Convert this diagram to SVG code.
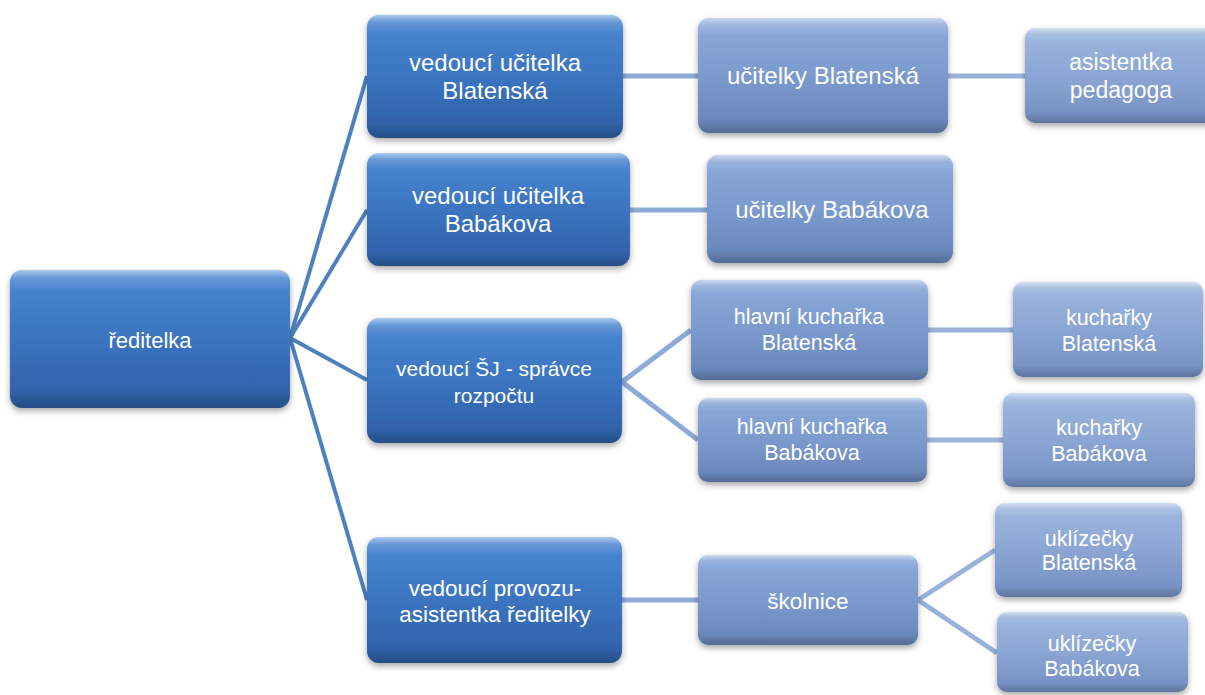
<svg xmlns="http://www.w3.org/2000/svg" width="1205" height="695" viewBox="0 0 1205 695">
<style>
.t{font-family:"Liberation Sans",Arial,sans-serif;fill:#ffffff;text-anchor:middle}
.c0{stroke:#4f81bd;stroke-width:4;fill:none;stroke-linecap:butt}
.c1{stroke:#8eaad6;stroke-width:5;fill:none}
.c2{stroke:#9ab2da;stroke-width:5;fill:none}
.dark{fill:url(#gDark);filter:url(#sh)}
.mid{fill:url(#gMid);filter:url(#sh)}
.light{fill:url(#gLight);filter:url(#sh)}
.gl{fill:url(#gloss)}
</style>
<defs>
<linearGradient id="gDark" x1="0" y1="0" x2="0" y2="1">
<stop offset="0" stop-color="#4c88d2"/>
<stop offset="0.5" stop-color="#3b74c0"/>
<stop offset="1" stop-color="#2d5ea3"/>
</linearGradient>
<linearGradient id="gMid" x1="0" y1="0" x2="0" y2="1">
<stop offset="0" stop-color="#8dabdb"/>
<stop offset="0.5" stop-color="#7b9acd"/>
<stop offset="1" stop-color="#6683b6"/>
</linearGradient>
<linearGradient id="gLight" x1="0" y1="0" x2="0" y2="1">
<stop offset="0" stop-color="#a0b8e0"/>
<stop offset="0.5" stop-color="#8ba6d4"/>
<stop offset="1" stop-color="#728ec1"/>
</linearGradient>
<linearGradient id="gloss" x1="0" y1="0" x2="0" y2="1">
<stop offset="0" stop-color="#ffffff" stop-opacity="0.55"/>
<stop offset="0.06" stop-color="#ffffff" stop-opacity="0.15"/>
<stop offset="0.15" stop-color="#ffffff" stop-opacity="0"/>
<stop offset="0.88" stop-color="#000000" stop-opacity="0"/>
<stop offset="1" stop-color="#000000" stop-opacity="0.18"/>
</linearGradient>
<filter id="sh" x="-10%" y="-10%" width="120%" height="130%">
<feDropShadow dx="0" dy="3" stdDeviation="3" flood-color="#000000" flood-opacity="0.35"/>
</filter>
</defs>

<g id="connectors">
<line class="c0" x1="290" y1="338" x2="367" y2="76"/>
<line class="c0" x1="290" y1="338" x2="367" y2="210"/>
<line class="c0" x1="290" y1="338" x2="367" y2="380"/>
<line class="c0" x1="290" y1="338" x2="367" y2="600"/>
<line class="c1" x1="623" y1="76" x2="698" y2="76"/>
<line class="c1" x1="630" y1="210" x2="707" y2="210"/>
<line class="c1" x1="622" y1="382" x2="691" y2="330"/>
<line class="c1" x1="622" y1="382" x2="698" y2="440"/>
<line class="c1" x1="622" y1="600" x2="698" y2="600"/>
<line class="c2" x1="948" y1="76" x2="1025" y2="76"/>
<line class="c2" x1="928" y1="330" x2="1013" y2="330"/>
<line class="c2" x1="927" y1="440" x2="1003" y2="440"/>
<line class="c2" x1="918" y1="600" x2="995" y2="550"/>
<line class="c2" x1="918" y1="600" x2="997" y2="653"/>
</g>

<g id="n-reditelka">
<rect class="dark" x="10" y="270" width="280" height="138" rx="12"/>
<rect class="gl" x="10" y="270" width="280" height="138" rx="12"/>
<text class="t" x="150" y="348" font-size="22">ředitelka</text>
</g>

<g id="n-vedouci-ucitelka-blatenska">
<rect class="dark" x="367" y="15" width="256" height="123" rx="12"/>
<rect class="gl" x="367" y="15" width="256" height="123" rx="12"/>
<text class="t" font-size="24"><tspan x="495" y="71">vedoucí učitelka</tspan><tspan x="495" y="99">Blatenská</tspan></text>
</g>

<g id="n-vedouci-ucitelka-babakova">
<rect class="dark" x="367" y="153" width="263" height="113" rx="12"/>
<rect class="gl" x="367" y="153" width="263" height="113" rx="12"/>
<text class="t" font-size="24"><tspan x="498" y="204">vedoucí učitelka</tspan><tspan x="498" y="232">Babákova</tspan></text>
</g>

<g id="n-vedouci-sj">
<rect class="dark" x="367" y="318" width="255" height="125" rx="12"/>
<rect class="gl" x="367" y="318" width="255" height="125" rx="12"/>
<text class="t" font-size="21"><tspan x="494" y="376">vedoucí ŠJ - správce</tspan><tspan x="494" y="403">rozpočtu</tspan></text>
</g>

<g id="n-vedouci-provozu">
<rect class="dark" x="367" y="537" width="255" height="126" rx="12"/>
<rect class="gl" x="367" y="537" width="255" height="126" rx="12"/>
<text class="t" font-size="22.5"><tspan x="495" y="596">vedoucí provozu-</tspan><tspan x="495" y="622">asistentka ředitelky</tspan></text>
</g>

<g id="n-ucitelky-blatenska">
<rect class="mid" x="698" y="18" width="250" height="115" rx="11"/>
<rect class="gl" x="698" y="18" width="250" height="115" rx="11"/>
<text class="t" x="823" y="84" font-size="24">učitelky Blatenská</text>
</g>

<g id="n-ucitelky-babakova">
<rect class="mid" x="707" y="155" width="246" height="108" rx="11"/>
<rect class="gl" x="707" y="155" width="246" height="108" rx="11"/>
<text class="t" x="832" y="218" font-size="24">učitelky Babákova</text>
</g>

<g id="n-hlavni-kucharka-blatenska">
<rect class="mid" x="691" y="280" width="237" height="100" rx="10"/>
<rect class="gl" x="691" y="280" width="237" height="100" rx="10"/>
<text class="t" font-size="21.5"><tspan x="809" y="324">hlavní kuchařka</tspan><tspan x="809" y="350">Blatenská</tspan></text>
</g>

<g id="n-hlavni-kucharka-babakova">
<rect class="mid" x="698" y="398" width="229" height="84" rx="10"/>
<rect class="gl" x="698" y="398" width="229" height="84" rx="10"/>
<text class="t" font-size="21.5"><tspan x="812" y="434">hlavní kuchařka</tspan><tspan x="812" y="460">Babákova</tspan></text>
</g>

<g id="n-skolnice">
<rect class="mid" x="698" y="555" width="220" height="90" rx="10"/>
<rect class="gl" x="698" y="555" width="220" height="90" rx="10"/>
<text class="t" x="808" y="609" font-size="22.5">školnice</text>
</g>

<g id="n-asistentka-pedagoga">
<rect class="light" x="1025" y="28" width="200" height="95" rx="10"/>
<rect class="gl" x="1025" y="28" width="200" height="95" rx="10"/>
<text class="t" font-size="23"><tspan x="1121" y="70">asistentka</tspan><tspan x="1121" y="98">pedagoga</tspan></text>
</g>

<g id="n-kucharky-blatenska">
<rect class="light" x="1013" y="282" width="190" height="95" rx="10"/>
<rect class="gl" x="1013" y="282" width="190" height="95" rx="10"/>
<text class="t" font-size="21.5"><tspan x="1109" y="325">kuchařky</tspan><tspan x="1109" y="351">Blatenská</tspan></text>
</g>

<g id="n-kucharky-babakova">
<rect class="light" x="1003" y="393" width="192" height="94" rx="10"/>
<rect class="gl" x="1003" y="393" width="192" height="94" rx="10"/>
<text class="t" font-size="21.5"><tspan x="1099" y="435">kuchařky</tspan><tspan x="1099" y="461">Babákova</tspan></text>
</g>

<g id="n-uklizecky-blatenska">
<rect class="light" x="995" y="503" width="187" height="94" rx="10"/>
<rect class="gl" x="995" y="503" width="187" height="94" rx="10"/>
<text class="t" font-size="21.5"><tspan x="1089" y="546">uklízečky</tspan><tspan x="1089" y="570">Blatenská</tspan></text>
</g>

<g id="n-uklizecky-babakova">
<rect class="light" x="997" y="612" width="191" height="80" rx="10"/>
<rect class="gl" x="997" y="612" width="191" height="80" rx="10"/>
<text class="t" font-size="21.5"><tspan x="1092" y="651">uklízečky</tspan><tspan x="1092" y="676">Babákova</tspan></text>
</g>
</svg>
